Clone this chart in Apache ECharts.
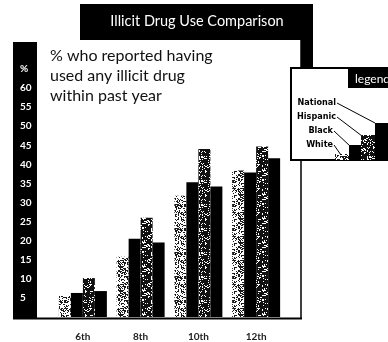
<!DOCTYPE html>
<html>
<head>
<meta charset="utf-8">
<script src="https://cdn.jsdelivr.net/npm/echarts@6/dist/echarts.min.js"></script>
<style>
  html, body { margin: 0; padding: 0; background: #fff; }
  #chart { width: 388px; height: 342px; }
</style>
</head>
<body>
<div id="chart"></div>
<script>
// data
var categories = ['6th', '8th', '10th', '12th'];
var whiteVals = [5.5, 15.8, 31.8, 38.4];
var blackVals = [6.3, 20.5, 35.3, 37.9];
var hispanicVals = [10.2, 26.0, 44.0, 44.7];
var nationalVals = [6.8, 19.5, 34.2, 41.6];
var legendNames = ['National', 'Hispanic', 'Black', 'White'];

// stipple texture (fixed hash, only for the look of the bars)
function stipple(density, bg, fg) {
  var c = document.createElement('canvas');
  c.width = 24; c.height = 24;
  var ctx = c.getContext('2d');
  ctx.fillStyle = bg;
  ctx.fillRect(0, 0, 24, 24);
  ctx.fillStyle = fg;
  for (var y = 0; y < 24; y++) {
    for (var x = 0; x < 24; x++) {
      var h = Math.sin(x * 12.9898 + y * 78.233) * 43758.5453;
      h = h - Math.floor(h);
      if (h < density) ctx.fillRect(x, y, 1, 1);
    }
  }
  return c;
}
var lightTex = stipple(0.42, '#ffffff', '#1a1a1a');
var darkTex = stipple(0.2, '#111111', '#ffffff');

var chart = echarts.init(document.getElementById('chart'));

function barSeries(name, data, color) {
  return {
    name: name,
    type: 'bar',
    data: data,
    barWidth: 12,
    barGap: '0%',
    itemStyle: { color: color },
    z: 5
  };
}

var lblFont = 'bold 9px "Liberation Sans Narrow", "DejaVu Sans Condensed", sans-serif';

chart.setOption({
  animation: false,
  grid: { left: 54, width: 231, top: 69, bottom: 25 },
  xAxis: {
    type: 'category',
    data: categories,
    axisLine: { show: false },
    axisTick: { show: false },
    axisLabel: {
      margin: 15,
      color: '#222',
      fontFamily: 'Lato',
      fontWeight: 'bold',
      fontSize: 10
    }
  },
  yAxis: {
    type: 'value',
    min: 0,
    max: 65,
    interval: 5,
    splitLine: { show: false },
    axisLine: { show: false },
    axisTick: { show: false },
    axisLabel: {
      align: 'left',
      margin: 34,
      color: '#fff',
      fontFamily: 'Lato',
      fontWeight: 'bold',
      fontSize: 10,
      formatter: function (v) {
        if (v === 0) return '';
        if (v === 65) return '%';
        return v;
      }
    }
  },
  series: [
    barSeries('White', whiteVals, { image: lightTex, repeat: 'repeat' }),
    barSeries('Black', blackVals, '#000'),
    barSeries('Hispanic', hispanicVals, { image: darkTex, repeat: 'repeat' }),
    barSeries('National', nationalVals, '#000')
  ],
  graphic: [
    // title block
    { type: 'rect', z: -10, shape: { x: 80, y: 4, width: 233, height: 66 }, style: { fill: '#000' } },
    { type: 'text', z: 1, style: { x: 197, y: 21, text: 'Illicit Drug Use Comparison', fill: '#fff',
      font: '14.5px Lato', textAlign: 'center', textVerticalAlign: 'middle' } },
    // main panel
    { type: 'rect', z: -5, shape: { x: 37, y: 40, width: 264, height: 279 }, style: { fill: '#fff' } },
    { type: 'rect', z: -5, shape: { x: 13, y: 42, width: 24, height: 277 }, style: { fill: '#000' } },
    { type: 'line', z: 1, shape: { x1: 301, y1: 40, x2: 301, y2: 319 }, style: { stroke: '#000', lineWidth: 1.5 } },
    { type: 'line', z: 1, shape: { x1: 13, y1: 318.5, x2: 302, y2: 318.5 }, style: { stroke: '#000', lineWidth: 2 } },
    { type: 'text', z: 1, style: { x: 50, y: 46, text: '% who reported having\nused any illicit drug\nwithin past year',
      fill: '#111', font: '16px Lato', lineHeight: 20 } },
    // legend box
    { type: 'rect', z: 10, shape: { x: 291, y: 68, width: 100, height: 92 }, style: { fill: '#fff', stroke: '#000', lineWidth: 2 } },
    { type: 'rect', z: 11, shape: { x: 348, y: 69, width: 42, height: 19 }, style: { fill: '#000' } },
    { type: 'text', z: 12, style: { x: 355, y: 79, text: 'legend', fill: '#fff', font: '12px Lato', textVerticalAlign: 'middle' } },
    { type: 'rect', z: 11, shape: { x: 335, y: 154, width: 14, height: 6 }, style: { fill: { image: lightTex, repeat: 'repeat' } } },
    { type: 'rect', z: 11, shape: { x: 349, y: 145, width: 12, height: 15 }, style: { fill: '#000' } },
    { type: 'rect', z: 11, shape: { x: 361, y: 135, width: 14, height: 25 }, style: { fill: { image: darkTex, repeat: 'repeat' } } },
    { type: 'rect', z: 11, shape: { x: 375, y: 123, width: 15, height: 37 }, style: { fill: '#000' } },
    { type: 'text', z: 12, style: { x: 336, y: 103, text: legendNames[0], fill: '#000', font: lblFont, textAlign: 'right', textVerticalAlign: 'middle' } },
    { type: 'text', z: 12, style: { x: 336, y: 117, text: legendNames[1], fill: '#000', font: lblFont, textAlign: 'right', textVerticalAlign: 'middle' } },
    { type: 'text', z: 12, style: { x: 333, y: 131, text: legendNames[2], fill: '#000', font: lblFont, textAlign: 'right', textVerticalAlign: 'middle' } },
    { type: 'text', z: 12, style: { x: 333, y: 145, text: legendNames[3], fill: '#000', font: lblFont, textAlign: 'right', textVerticalAlign: 'middle' } },
    { type: 'line', z: 12, shape: { x1: 337, y1: 103, x2: 375, y2: 123 }, style: { stroke: '#000', lineWidth: 1 } },
    { type: 'line', z: 12, shape: { x1: 337, y1: 117, x2: 362, y2: 136 }, style: { stroke: '#000', lineWidth: 1 } },
    { type: 'line', z: 12, shape: { x1: 334, y1: 131, x2: 350, y2: 146 }, style: { stroke: '#000', lineWidth: 1 } },
    { type: 'line', z: 12, shape: { x1: 334, y1: 145, x2: 341, y2: 155 }, style: { stroke: '#000', lineWidth: 1 } }
  ]
});
</script>
</body>
</html>
